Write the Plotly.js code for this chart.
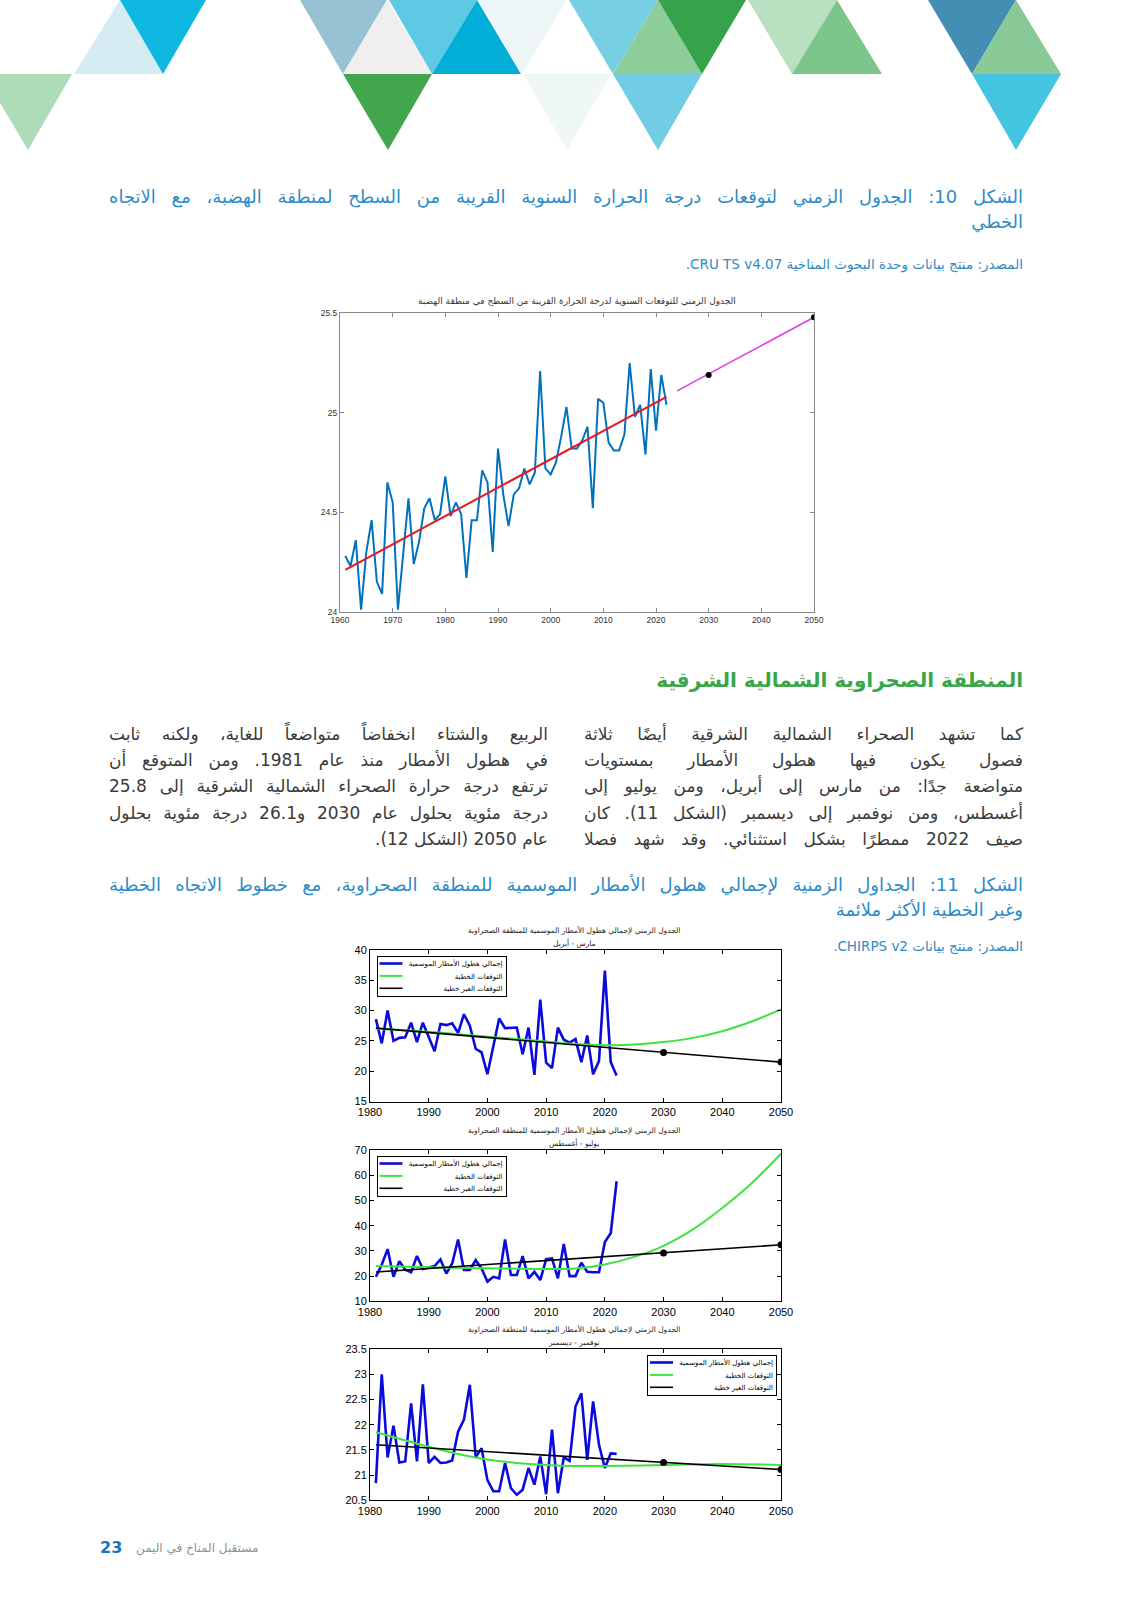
<!DOCTYPE html>
<html>
<head>
<meta charset="utf-8">
<script src="https://cdn.plot.ly/plotly-3.0.1.min.js"></script>
<style>
html,body{margin:0;padding:0;background:#fff;}
#page{position:relative;width:1132px;height:1600px;overflow:hidden;background:#fff;}
#deco{position:absolute;left:0;top:0;}
#plot{position:absolute;left:0;top:0;width:1132px;height:1600px;}
#txt{position:absolute;left:0;top:0;width:1132px;height:1600px;z-index:5;}
.ln{position:absolute;direction:rtl;font-family:'DejaVu Sans',sans-serif;white-space:normal;overflow:visible;}
</style>
</head>
<body>
<div id="page">
<svg id="deco" width="1132" height="160"></svg>
<div id="plot"></div>
<div id="txt"></div>
</div>
<script>
// ---------------- DATA ----------------
// Figure 10: annual near-surface temperature, plateau region
const years1 = [1961,1962,1963,1964,1965,1966,1967,1968,1969,1970,1971,1972,1973,1974,1975,1976,1977,1978,1979,1980,1981,1982,1983,1984,1985,1986,1987,1988,1989,1990,1991,1992,1993,1994,1995,1996,1997,1998,1999,2000,2001,2002,2003,2004,2005,2006,2007,2008,2009,2010,2011,2012,2013,2014,2015,2016,2017,2018,2019,2020,2021,2022];
const temp1 = [24.28,24.23,24.36,24.01,24.30,24.46,24.15,24.09,24.65,24.55,24.01,24.28,24.57,24.24,24.35,24.52,24.57,24.46,24.49,24.68,24.48,24.55,24.49,24.17,24.46,24.46,24.71,24.65,24.30,24.82,24.59,24.43,24.59,24.62,24.72,24.64,24.70,25.21,24.72,24.69,24.75,24.88,25.03,24.82,24.82,24.86,24.93,24.52,25.07,25.05,24.85,24.81,24.81,24.89,25.25,24.98,25.04,24.79,25.22,24.91,25.19,25.04];
const trendYears1 = [1961, 2022];
const trendVals1 = [24.21, 25.08];
const projYears1 = [2024, 2050];
const projVals1 = [25.11, 25.48];
const projDotYears1 = [2030, 2050];
const projDotVals1 = [25.19, 25.48];
const title1 = 'الجدول الزمني للتوقعات السنوية لدرجة الحرارة القريبة من السطح في منطقة الهضبة';

// Figure 11: seasonal rainfall, desert region
const yearsR = [1981,1982,1983,1984,1985,1986,1987,1988,1989,1990,1991,1992,1993,1994,1995,1996,1997,1998,1999,2000,2001,2002,2003,2004,2005,2006,2007,2008,2009,2010,2011,2012,2013,2014,2015,2016,2017,2018,2019,2020,2021,2022];
const rainMarApr = [28.6,24.6,30.0,25.0,25.5,25.6,28.0,24.8,28.0,25.7,23.3,27.8,27.6,27.9,26.3,29.4,27.5,23.7,23.1,19.5,23.9,28.7,27.1,27.1,27.2,22.8,27.2,19.4,31.8,21.4,20.5,27.2,25.2,24.7,25.3,21.5,25.9,19.5,21.7,36.6,21.5,19.3];
const rainJulAug = [19.7,24.5,30.7,19.7,25.9,22.5,21.5,28.0,22.8,23.3,24.0,26.6,21.0,25.0,34.5,22.4,22.4,26.3,23.0,17.8,19.7,19.1,34.5,20.4,20.4,27.9,19.1,21.7,18.4,26.7,27.0,19.1,32.7,20.0,20.0,25.3,21.7,21.5,21.5,33.5,37.0,57.6];
const rainNovDec = [20.84,23.0,21.35,21.98,21.25,21.27,22.42,21.27,22.8,21.24,21.36,21.24,21.25,21.29,21.86,22.1,22.79,21.36,21.53,20.9,20.68,20.68,21.24,20.74,20.61,20.71,21.14,20.81,21.37,20.62,21.9,20.64,21.35,21.28,22.36,22.62,21.3,22.46,21.6,21.14,21.43,21.42];

const greenYears2 = [1981,1990,2000,2010,2015,2020,2025,2030,2035,2040,2045,2050];
const greenMarApr = [27.0,26.5,25.7,24.9,24.5,24.3,24.4,24.8,25.5,26.6,28.2,30.2];
const greenYears3 = [1981,1990,2000,2010,2015,2020,2025,2030,2035,2040,2045,2050];
const greenJulAug = [24.0,23.5,23.1,22.8,23.0,24.6,27.6,32.0,38.5,47.0,56.8,68.5];
const greenYears4 = [1981,1985,1990,1995,2000,2005,2010,2015,2020,2030,2040,2050];
const greenNovDec = [21.85,21.72,21.56,21.42,21.31,21.24,21.2,21.18,21.18,21.2,21.22,21.2];

const blackYears = [1981, 2050];
const blackMarApr = [27.1, 21.5];
const blackJulAug = [21.6, 32.4];
const blackNovDec = [21.6, 21.11];
const dotYears = [2030, 2050];
const dotMarApr = [23.1, 21.5];
const dotJulAug = [29.2, 32.4];
const dotNovDec = [21.25, 21.11];

const legendNames = ['إجمالي هطول الأمطار الموسمية', 'التوقعات الخطية', 'التوقعات الغير خطية'];
const rainTitle = 'الجدول الزمني لإجمالي هطول الأمطار الموسمية للمنطقة الصحراوية';
const seasonNames = ['مارس - أبريل', 'يوليو - أغسطس', 'نوفمبر - ديسمبر'];

// ---------------- DECORATION ----------------
const tris = [
 // [x0, x1, apexX, yBase, yApex, color]
 [74,163,120,74,0,'#d4ecf2'],
 [120,206,163,0,74,'#0fb8e0'],
 [300,387,343,0,74,'#96c2d4'],
 [343,432,387,74,0,'#f0efed'],
 [389,477,432,0,74,'#5ec9e4'],
 [432,521,477,74,0,'#01aed8'],
 [479,567,522,0,74,'#eef5f7'],
 [569,658,613,0,74,'#77cfe4'],
 [613,702,658,74,0,'#8dcd99'],
 [658,746,702,0,74,'#36a24a'],
 [748,837,792,0,74,'#b8e0c1'],
 [792,882,837,74,0,'#7cc68c'],
 [928,1016,972,0,74,'#448db3'],
 [972,1061,1016,74,0,'#89c998'],
 [-17,72,28,74,150,'#aedcb9'],
 [343,432,388,74,150,'#42a64c'],
 [523,611,567,74,150,'#eff7f7'],
 [613,702,658,74,150,'#72cde4'],
 [972,1061,1016,74,150,'#43c5e1']
];
const svg = document.getElementById('deco');
tris.forEach(t => {
  const p = document.createElementNS('http://www.w3.org/2000/svg','polygon');
  p.setAttribute('points', `${t[0]},${t[3]} ${t[1]},${t[3]} ${t[2]},${t[4]}`);
  p.setAttribute('fill', t[5]);
  svg.appendChild(p);
});

// ---------------- CHARTS ----------------
const W = 1132, H = 1600;
const fx = v => v / W;
const fy = v => 1 - v / H;

function ax(opts, dark, fs) {
  return Object.assign({
    showline: true, mirror: 'ticks', ticks: 'inside', ticklen: 4, tickwidth: 1,
    linecolor: dark ? '#000' : '#8a8a8a', tickcolor: dark ? '#000' : '#8a8a8a', linewidth: 1,
    showgrid: false, zeroline: false,
    tickfont: {family: 'Liberation Sans, Arial, sans-serif', size: fs, color: dark ? '#000' : '#333'}
  }, opts);
}

const traces = [];
traces.push({x: years1, y: temp1, xaxis: 'x', yaxis: 'y', mode: 'lines', line: {color: '#0072BD', width: 2}, showlegend: false});
traces.push({x: trendYears1, y: trendVals1, xaxis: 'x', yaxis: 'y', mode: 'lines', line: {color: '#e8191c', width: 2}, showlegend: false});
traces.push({x: projYears1, y: projVals1, xaxis: 'x', yaxis: 'y', mode: 'lines', line: {color: '#e040e6', width: 1.6}, showlegend: false});
traces.push({x: projDotYears1, y: projDotVals1, xaxis: 'x', yaxis: 'y', mode: 'markers', marker: {color: '#000', size: 6}, showlegend: false});

const rainSets = [
  [rainMarApr, greenYears2, greenMarApr, blackMarApr, dotMarApr, 'legend'],
  [rainJulAug, greenYears3, greenJulAug, blackJulAug, dotJulAug, 'legend2'],
  [rainNovDec, greenYears4, greenNovDec, blackNovDec, dotNovDec, 'legend3']
];
rainSets.forEach((s, i) => {
  const xa = 'x' + (i + 2), ya = 'y' + (i + 2);
  traces.push({x: yearsR, y: s[0], xaxis: xa, yaxis: ya, mode: 'lines', name: legendNames[0], legend: s[5], line: {color: '#0a0adc', width: 2.6}});
  traces.push({x: s[1], y: s[2], xaxis: xa, yaxis: ya, mode: 'lines', name: legendNames[1], legend: s[5], line: {color: '#3fe33f', width: 2, shape: 'spline', smoothing: 1}});
  traces.push({x: blackYears, y: s[3], xaxis: xa, yaxis: ya, mode: 'lines', name: legendNames[2], legend: s[5], line: {color: '#000', width: 1.6}});
  traces.push({x: dotYears, y: s[4], xaxis: xa, yaxis: ya, mode: 'markers', marker: {color: '#000', size: 7}, showlegend: false});
});

const legStyle = (x, y, xanchor) => ({
  x: x, y: y, xanchor: xanchor, yanchor: 'top', xref: 'paper', yref: 'paper',
  bgcolor: '#fff', bordercolor: '#000', borderwidth: 1, itemwidth: 30, tracegroupgap: 0,
  font: {family: 'DejaVu Sans, sans-serif', size: 7, color: '#000'}
});

const rainX = [fx(370), fx(781)];
const annFont = {family: 'DejaVu Sans, sans-serif', size: 7.5, color: '#222'};
const ann = [
  {text: title1, x: fx(577), y: fy(301), xref: 'paper', yref: 'paper', showarrow: false, font: {family: 'DejaVu Sans, sans-serif', size: 9, color: '#333'}, xanchor: 'center', yanchor: 'middle'}
];
[[930, 942.5], [1130, 1143], [1329, 1342]].forEach((p, i) => {
  ann.push({text: rainTitle, x: fx(574), y: fy(p[0]), xref: 'paper', yref: 'paper', showarrow: false, font: annFont, xanchor: 'center', yanchor: 'middle'});
  ann.push({text: seasonNames[i], x: fx(574), y: fy(p[1]), xref: 'paper', yref: 'paper', showarrow: false, font: annFont, xanchor: 'center', yanchor: 'middle'});
});

const layout = {
  width: W, height: H, margin: {l: 0, r: 0, t: 0, b: 0},
  paper_bgcolor: 'rgba(0,0,0,0)', plot_bgcolor: '#fff',
  font: {family: 'Liberation Sans, Arial, sans-serif'},
  xaxis: ax({domain: [fx(340), fx(814)], anchor: 'y', range: [1960, 2050], tick0: 1960, dtick: 10}, false, 8.5),
  yaxis: ax({domain: [fy(611.7), fy(313.3)], anchor: 'x', range: [24, 25.5], tick0: 24, dtick: 0.5}, false, 8.5),
  xaxis2: ax({domain: rainX, anchor: 'y2', range: [1980, 2050], tick0: 1980, dtick: 10}, true, 11),
  yaxis2: ax({domain: [fy(1101.5), fy(950)], anchor: 'x2', range: [15, 40], tick0: 15, dtick: 5}, true, 11),
  xaxis3: ax({domain: rainX, anchor: 'y3', range: [1980, 2050], tick0: 1980, dtick: 10}, true, 11),
  yaxis3: ax({domain: [fy(1301.3), fy(1150)], anchor: 'x3', range: [10, 70], tick0: 10, dtick: 10}, true, 11),
  xaxis4: ax({domain: rainX, anchor: 'y4', range: [1980, 2050], tick0: 1980, dtick: 10}, true, 11),
  yaxis4: ax({domain: [fy(1500.3), fy(1349)], anchor: 'x4', range: [20.5, 23.5], tick0: 20.5, dtick: 0.5}, true, 11),
  legend: legStyle(fx(376), fy(956), 'left'),
  legend2: legStyle(fx(376), fy(1156), 'left'),
  legend3: legStyle(fx(776), fy(1355), 'right'),
  annotations: ann
};

// compact MATLAB-like legend boxes: [left, top, width, height, rowStep]
const legendBoxes = {
  legend: [376.5, 956, 129, 40, 12.4],
  legend2: [376.5, 1156, 129, 40, 12.4],
  legend3: [647, 1355, 129, 40, 12.4]
};
function compactLegends() {
  const infolayer = document.querySelector('#plot g.infolayer');
  if (!infolayer) return;
  Array.from(infolayer.children).forEach(lg => {
    const cls = (lg.getAttribute('class') || '').split(/\s+/);
    const id = cls.find(c => legendBoxes[c]);
    if (!id) return;
    const b = legendBoxes[id];
    try {
      lg.setAttribute('transform', `translate(${b[0]},${b[1]})`);
      const bg = lg.querySelector('rect.bg');
      if (bg) {
        bg.setAttribute('x', 0.5); bg.setAttribute('y', 0.5);
        bg.setAttribute('width', b[2]); bg.setAttribute('height', b[3]);
      }
      const sb = lg.querySelector('g.scrollbox');
      if (sb) { sb.setAttribute('transform', 'translate(0,0)'); sb.removeAttribute('clip-path'); }
      lg.querySelectorAll('g.groups').forEach(g => g.setAttribute('transform', 'translate(0,0)'));
    } catch (e) {}
    const items = lg.querySelectorAll('g.traces');
    items.forEach((it, i) => {
      try {
        it.setAttribute('transform', `translate(0,${7.5 + i * b[4]})`);
        it.querySelectorAll('g.legendlines path').forEach(p => p.setAttribute('d', 'M3,0h23'));
      } catch (e) {}
      // legend text element class is "<legendId>text"
      const t = it.querySelector('text.' + id + 'text') || it.querySelector('text');
      if (!t) return;
      try {
        let w = 0;
        try { w = t.getBBox().width; } catch (e) { w = 0; }
        if (!w) { try { w = t.getComputedTextLength(); } catch (e) { w = 0; } }
        if (!w) return;
        const x0 = parseFloat(t.getAttribute('x')) || 40;
        const dx = (b[2] - 3 - w) - x0;
        t.setAttribute('transform', `translate(${dx},0)`);
      } catch (e) {}
    });
  });
}
const gd = document.getElementById('plot');
Plotly.newPlot(gd, traces, layout, {displayModeBar: false, staticPlot: true}).then(() => {
  compactLegends();
  gd.on('plotly_afterplot', compactLegends);
  [50, 200, 600, 1200].forEach(t => setTimeout(compactLegends, t));
  if (document.fonts && document.fonts.ready) document.fonts.ready.then(compactLegends);
});

// ---------------- PAGE TEXT ----------------
const blue = '#2d8bc6', green = '#3aa64a', body = '#3a3a3a';
const txt = document.getElementById('txt');
const lines = [];
function line(text, right, width, cy, fs, color, opts) {
  opts = opts || {};
  const d = document.createElement('div');
  d.className = 'ln';
  const lh = Math.round(fs * 1.45);
  d.style.left = (right - width) + 'px';
  d.style.width = width + 'px';
  d.style.top = (cy - lh / 2) + 'px';
  d.style.lineHeight = lh + 'px';
  d.style.fontSize = fs + 'px';
  d.style.color = color;
  if (opts.bold) d.style.fontWeight = 'bold';
  if (opts.justify) { d.style.textAlign = 'justify'; d.style.textAlignLast = 'justify'; }
  else d.style.textAlign = opts.align || 'right';
  if (opts.dir) d.style.direction = opts.dir;
  d.textContent = text;
  txt.appendChild(d);
  lines.push({d: d, fs: fs, cy: cy});
}

line('الشكل 10: الجدول الزمني لتوقعات درجة   الحرارة السنوية القريبة من السطح لمنطقة الهضبة، مع الاتجاه', 1023, 914, 197, 18, blue, {justify: true});
line('الخطي', 1023, 914, 222, 18, blue);
line('المصدر: منتج بيانات وحدة البحوث المناخية CRU TS v4.07.', 1023, 500, 264, 13.5, blue);

line('المنطقة الصحراوية الشمالية الشرقية', 1023, 500, 680, 20, green, {bold: true});

const colR = ['كما تشهد الصحراء الشمالية الشرقية أيضًا ثلاثة',
  'فصول يكون فيها هطول الأمطار بمستويات',
  'متواضعة جدًا: من مارس إلى أبريل، ومن يوليو إلى',
  'أغسطس، ومن نوفمبر إلى ديسمبر (الشكل 11). كان',
  'صيف 2022 ممطرًا بشكل استثنائي. وقد شهد فصلا'];
const colL = ['الربيع والشتاء انخفاضاً متواضعاً للغاية، ولكنه ثابت',
  'في هطول الأمطار منذ عام 1981. ومن المتوقع أن',
  'ترتفع درجة حرارة الصحراء الشمالية الشرقية إلى 25.8',
  'درجة مئوية بحلول عام 2030 و26.1 درجة مئوية بحلول',
  'عام 2050 (الشكل 12).'];
const rowY = [734, 760.5, 786.5, 813, 839];
colR.forEach((t, i) => line(t, 1023, 439, rowY[i], 17, body, {justify: true}));
colL.forEach((t, i) => line(t, 548, 439, rowY[i], 17, body, {justify: i < 4}));

line('الشكل 11: الجداول الزمنية لإجمالي هطول الأمطار الموسمية للمنطقة الصحراوية، مع خطوط الاتجاه الخطية', 1023, 914, 885, 18, blue, {justify: true});
line('وغير الخطية الأكثر ملائمة', 1023, 914, 910, 18, blue);
line('المصدر: منتج بيانات CHIRPS v2.', 1023, 250, 945.5, 13.5, blue);

line('23', 130, 30, 1547, 16, '#1b75bb', {bold: true, dir: 'ltr', align: 'left'});
line('مستقبل المناخ في اليمن', 276, 140, 1548, 12, '#8f8f8f', {align: 'left'});

function fit() {
  lines.forEach(o => {
    let fs = o.fs;
    let guard = 0;
    while (o.d.scrollHeight > parseFloat(o.d.style.lineHeight) * 1.3 && guard < 40) {
      fs -= 0.25; guard++;
      o.d.style.fontSize = fs + 'px';
    }
  });
}
fit();
if (document.fonts && document.fonts.ready) document.fonts.ready.then(fit);
</script>
</body>
</html>
